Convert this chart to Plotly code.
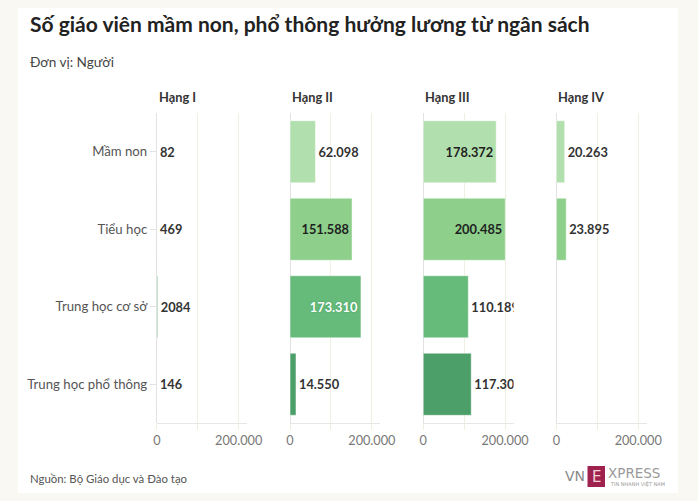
import plotly.graph_objects as go

# Page is 698x501; the default 8px body margin is kept, so the figure fills the rest.
OFF = 8
W, H = 698 - 2 * OFF, 501 - 2 * OFF

categories = ["Mầm non", "Tiểu học", "Trung học cơ sở", "Trung học phổ thông"]
panels = ["Hạng I", "Hạng II", "Hạng III", "Hạng IV"]
hang_1 = [82, 469, 2084, 146]
hang_2 = [62098, 151588, 173310, 14550]
hang_3 = [178372, 200485, 110189, 117303]
hang_4 = [20263, 23895, None, None]
series = [hang_1, hang_2, hang_3, hang_4]

row_colors = ["#b2dfae", "#8ecf8c", "#66bb7b", "#4c9f68"]
inside_font_colors = ["#1f1f1f", "#1f1f1f", "#ffffff", "#ffffff"]
inside_halo = ["#b2dfae", "#8ecf8c", "#3f9a5a", "#3a8a56"]

tick_vals = [0, 100000, 200000]
tick_text = ["0", "", "200.000"]
x_max = 221000

FONT = "Lato"
BG = "#f9f8f3"


def fmt(v):
    if v is None:
        return ""
    if v >= 10000:
        return f"{v:,}".replace(",", ".")
    return str(v)


def px_x(p):
    return (p - OFF) / W


def px_y(p):
    return 1 - (p - OFF) / H


panel_left = [157, 294, 431, 568]
panel_w = 93
plot_top, plot_bot = 113, 423

fig = go.Figure()

for pi, vals in enumerate(series):
    xa = "x" if pi == 0 else f"x{pi+1}"
    ya = "y" if pi == 0 else f"y{pi+1}"
    for ri, cat in enumerate(categories):
        v = vals[ri]
        if v is None:
            continue
        inside = v >= 150000
        fig.add_trace(go.Bar(
            x=[v], y=[cat], orientation="h",
            xaxis=xa, yaxis=ya,
            marker=dict(color=row_colors[ri],
                        line=dict(color="rgba(255,255,255,0.45)", width=1)),
            text=[fmt(v)],
            textposition="inside" if inside else "outside",
            insidetextanchor="end",
            constraintext="none",
            cliponaxis=True,
            insidetextfont=dict(family=FONT, size=12.8, color=inside_font_colors[ri],
                                weight="bold",
                                shadow=f"0px 0px 2px {inside_halo[ri]}"),
            outsidetextfont=dict(family=FONT, size=12.8, color="#333333", weight="bold"),
            showlegend=False,
            hoverinfo="skip",
        ))

layout = dict(
    width=W, height=H, autosize=False,
    margin=dict(l=0, r=0, t=0, b=0),
    paper_bgcolor=BG,
    plot_bgcolor="rgba(0,0,0,0)",
    barmode="overlay",
    bargap=0.2,
    font=dict(family=FONT, color="#444444"),
)

for pi in range(4):
    xk = "xaxis" if pi == 0 else f"xaxis{pi+1}"
    yk = "yaxis" if pi == 0 else f"yaxis{pi+1}"
    ya = "y" if pi == 0 else f"y{pi+1}"
    layout[xk] = dict(
        domain=[px_x(panel_left[pi]), px_x(panel_left[pi] + panel_w)],
        anchor=ya,
        range=[0, x_max],
        tickvals=tick_vals, ticktext=tick_text,
        showgrid=True, gridcolor="#f1efe2", gridwidth=1,
        zeroline=True, zerolinecolor="#e2e2e2", zerolinewidth=1,
        showline=True, linecolor="#e6e6e6", linewidth=1,
        ticks="outside", ticklen=6, tickcolor="#f1efe2",
        tickfont=dict(family=FONT, size=12.7, color="#777777"),
        fixedrange=True,
    )
    yd = dict(
        domain=[px_y(plot_bot), px_y(plot_top)],
        anchor="x" if pi == 0 else f"x{pi+1}",
        categoryorder="array", categoryarray=categories,
        autorange="reversed",
        showgrid=False, zeroline=False, showline=False,
        fixedrange=True,
    )
    if pi == 0:
        yd.update(ticks="outside", ticklen=6, tickcolor="#e3e3e3",
                  tickfont=dict(family=FONT, size=13.2, color="#555555"))
    else:
        yd.update(showticklabels=False, ticks="", matches="y")
    layout[yk] = yd

fig.update_layout(**layout)

shapes = [
    dict(type="rect", xref="paper", yref="paper",
         x0=px_x(14), x1=px_x(693), y0=px_y(499), y1=1,
         fillcolor="#ffffff", line=dict(width=0), layer="below"),
    dict(type="rect", xref="paper", yref="paper",
         x0=px_x(600), x1=px_x(618), y0=px_y(487), y1=px_y(466),
         fillcolor="#9f224e", line=dict(width=0), layer="above"),
]
fig.update_layout(shapes=shapes)

annotations = [
    dict(text="<b>Số giáo viên mầm non, phổ thông hưởng lương từ ngân sách</b>",
         x=px_x(24), y=px_y(24), xref="paper", yref="paper",
         xanchor="left", yanchor="middle", showarrow=False,
         font=dict(family=FONT, size=21, color="#222222")),
    dict(text="Đơn vị: Người",
         x=px_x(24), y=px_y(62), xref="paper", yref="paper",
         xanchor="left", yanchor="middle", showarrow=False,
         font=dict(family=FONT, size=13.6, color="#444444")),
    dict(text="Nguồn: Bộ Giáo dục và Đào tạo",
         x=px_x(24), y=px_y(478), xref="paper", yref="paper",
         xanchor="left", yanchor="middle", showarrow=False,
         font=dict(family=FONT, size=11.4, color="#555555")),
    dict(text="VN", x=px_x(599), y=px_y(476), xref="paper", yref="paper",
         xanchor="right", yanchor="middle", showarrow=False,
         font=dict(family="DejaVu Sans", size=14, color="#8a8a8a")),
    dict(text="E", x=px_x(609), y=px_y(476.5), xref="paper", yref="paper",
         xanchor="center", yanchor="middle", showarrow=False,
         font=dict(family="DejaVu Sans", size=15, color="#f3d0da")),
    dict(text="XPRESS", x=px_x(619), y=px_y(473), xref="paper", yref="paper",
         xanchor="left", yanchor="middle", showarrow=False,
         font=dict(family="DejaVu Sans", size=13.5, color="#9a9a9a")),
    dict(text="TIN NHANH VIỆT NAM", x=px_x(621), y=px_y(484), xref="paper", yref="paper",
         xanchor="left", yanchor="middle", showarrow=False,
         font=dict(family="DejaVu Sans", size=5, color="#9a9a9a")),
]
for pi, name in enumerate(panels):
    annotations.append(dict(
        text=f"<b>{name}</b>", x=px_x(panel_left[pi]), y=px_y(97),
        xref="paper", yref="paper", xanchor="left", yanchor="middle",
        showarrow=False, font=dict(family=FONT, size=12.8, color="#333333")))
fig.update_layout(annotations=annotations)

fig.write_html(
    "out.html",
    config={"displayModeBar": False},
    post_script="document.body.style.background='" + BG + "';",
)
